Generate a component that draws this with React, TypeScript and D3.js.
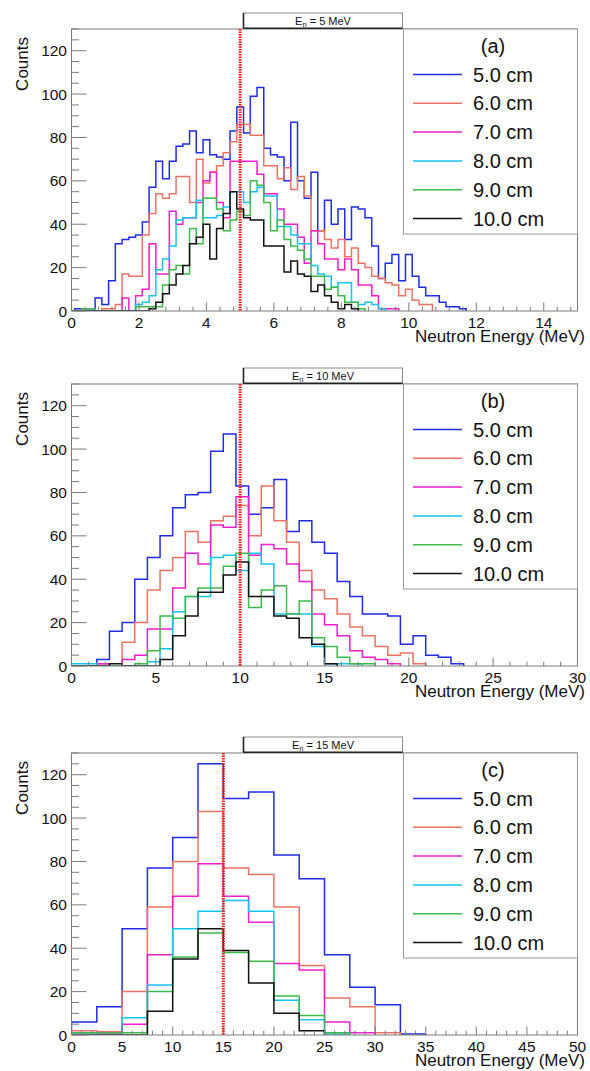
import React from "react";
import * as d3 from "d3";

// ---------- data ----------
const seriesLabels = ["5.0 cm", "6.0 cm", "7.0 cm", "8.0 cm", "9.0 cm", "10.0 cm"];
const seriesColors = ["#1f2be6", "#ee7263", "#f01ecb", "#17c3ee", "#3dbb4a", "#111111"];

// Panel (a): E_n = 5 MeV, bins of 0.2 MeV centred at 0, 0.2, 0.4, ...
const a50 = [0,1,1,1,6,3,14,31,33,34,35,41,57,69,61,69,76,77,83,73,79,72,71,70,83,94,82,99,103,75,72,71,60,87,60,52,64,37,51,40,47,33,48,47,43,30,15,22,26,14,26,16,11,7,7,4,2,2,1];
const a60 = [0,0,0,0,0,1,1,3,17,16,16,35,45,54,52,54,62,62,50,70,59,64,67,73,78,86,86,81,81,67,67,61,66,56,62,53,37,37,33,29,33,25,29,22,20,16,15,13,12,7,10,5,3,3];
const a70 = [0,0,0,0,0,0,0,0,6,0,7,10,31,17,17,46,40,43,43,50,60,64,50,43,69,69,69,69,63,54,54,47,40,40,34,22,37,31,24,24,19,24,19,12,12,7,1,1,1];
const a80 = [0,0,0,0,0,0,0,0,0,0,3,4,7,19,24,30,42,43,43,51,43,43,44,48,55,55,50,55,57,53,53,39,39,35,31,31,21,17,16,11,13,13,4,3,4,3,1];
const a90 = [0,0,1,1,0,0,0,0,0,0,2,2,2,2,12,19,21,17,38,31,52,52,47,37,42,46,44,60,58,50,37,42,33,30,28,24,16,16,10,11,7,4,4,1];
const a100 = [0,0,0,0,0,0,0,0,0,0,0,0,1,4,8,12,17,21,31,34,40,24,38,45,55,47,43,42,42,30,30,30,18,23,17,16,9,12,7,4,1,3,1];

// Panel (b): E_n = 10 MeV, bins of 0.75 MeV starting at 0
const b50 = [0,0,3,16,20,40,50,60,73,79,80,99,107,83,70,73,86,62,67,57,52,39,32,24,24,23,10,14,5,4,1];
const b60 = [0,0,1,0,11,20,35,44,50,62,57,67,69,74,60,83,67,57,44,35,31,24,18,14,9,5,6,1];
const b70 = [0,0,1,0,3,5,17,17,36,52,47,65,64,78,51,56,54,47,39,24,19,14,7,4,3,1];
const b80 = [1,1,0,0,0,0,2,8,25,32,32,50,51,44,52,47,24,24,24,9,1,1,1];
const b90 = [0,0,0,0,0,1,7,23,22,32,36,36,46,52,27,35,37,24,30,13,9,4,1,1];
const b100 = [0,0,0,1,0,0,0,3,14,23,34,34,42,48,32,32,23,22,13,10,1];

// Panel (c): E_n = 15 MeV, bins of 2.5 MeV starting at 0
const c50 = [6,13,49,77,91,125,109,112,83,72,37,22,14,0.5];
const c60 = [2,1.5,20,59,80,103,77,74,59,32,17,13,1];
const c70 = [1,0.5,5,37,64,79,64,52,33,30,6,1];
const c80 = [1,0,8,23,49,57,62,57,16,7,0.5];
const c90 = [1,1,1,20,36,47,38,34,18,9,1];
const c100 = [0,0,0,11,35,49,39,24,10,2];

const panelTags = ["(a)", "(b)", "(c)"];
const beamEnergies = [5, 10, 15];
const xMaxima = [15, 30, 50];
const binWidths = [0.2, 0.75, 2.5];
const firstBinEdges = [-0.1, 0, 0];
const xMajorSteps = [2, 5, 5];
const xMinorSteps = [0.4, 1, 1];
const yMajorTicks = [0, 20, 40, 60, 80, 100, 120];
const yMax = 130;
const panelSeries = [
  [a50, a60, a70, a80, a90, a100],
  [b50, b60, b70, b80, b90, b100],
  [c50, c60, c70, c80, c90, c100],
];

// ---------- layout ----------
const W = 590;
const H = 1071;
const LEFT = 71.5;
const RIGHT = 577.5;
const TOPS = [29, 384, 753];
const PH = 282;
const FONT = "'Liberation Sans', Arial, Helvetica, sans-serif";
const AXIS_COLOR = "#7a7a7a";

function Panel({ idx }: { idx: number }) {
  const top = TOPS[idx];
  const bottom = top + PH;
  const xMax = xMaxima[idx];
  const w = binWidths[idx];
  const off = firstBinEdges[idx];
  const x = d3.scaleLinear().domain([0, xMax]).range([LEFT, RIGHT]);
  const y = d3.scaleLinear().domain([0, yMax]).range([bottom, top]);
  const line = d3
    .line<[number, number]>()
    .x((d) => x(d[0]))
    .y((d) => y(d[1]))
    .curve(d3.curveStepAfter);

  const maj = xMajorSteps[idx];
  const xMajors = d3.range(0, xMax + 1e-9, maj);
  const xMinors = d3
    .range(0, xMax + 1e-9, xMinorSteps[idx])
    .filter((v) => Math.abs(v / maj - Math.round(v / maj)) > 1e-6);
  const yMinors = d3.range(0, yMax + 1e-9, 5).filter((v) => v % 20 !== 0);
  const clipId = `plotclip${idx}`;
  const e = beamEnergies[idx];

  return (
    <g>
      <defs>
        <clipPath id={clipId}>
          <rect x={LEFT} y={top - 2} width={RIGHT - LEFT} height={PH + 2} />
        </clipPath>
      </defs>
      <rect x={LEFT} y={top} width={RIGHT - LEFT} height={PH} fill="#fff" />
      {/* histograms */}
      <g clipPath={`url(#${clipId})`}>
        {panelSeries[idx].map((vals, s) => {
          const pts: [number, number][] = [[off, 0]];
          vals.forEach((v, k) => pts.push([off + k * w, v]));
          pts.push([off + vals.length * w, 0]);
          return (
            <path
              key={s}
              d={line(pts) || ""}
              fill="none"
              stroke={seriesColors[s]}
              strokeWidth={1.5}
            />
          );
        })}
      </g>
      {/* frame */}
      <rect x={LEFT} y={top} width={RIGHT - LEFT} height={PH} fill="none" stroke={AXIS_COLOR} strokeWidth={1} />
      {/* y ticks */}
      {yMajorTicks.map((v) => (
        <g key={`ym${v}`}>
          <line x1={LEFT} x2={LEFT + 15} y1={y(v)} y2={y(v)} stroke={AXIS_COLOR} strokeWidth={1} />
          <text x={67} y={y(v) + 5.5} fontSize={15.5} textAnchor="end" fill="#111">
            {v}
          </text>
        </g>
      ))}
      {yMinors.map((v) => (
        <line key={`yn${v}`} x1={LEFT} x2={LEFT + 7.5} y1={y(v)} y2={y(v)} stroke={AXIS_COLOR} strokeWidth={1} />
      ))}
      {/* x ticks */}
      {xMajors.map((v) => (
        <g key={`xm${v}`}>
          <line x1={x(v)} x2={x(v)} y1={bottom} y2={bottom - 8.5} stroke={AXIS_COLOR} strokeWidth={1} />
          <text x={x(v)} y={bottom + 16.5} fontSize={15.5} textAnchor="middle" fill="#111">
            {v}
          </text>
        </g>
      ))}
      {xMinors.map((v, i) => (
        <line key={`xn${i}`} x1={x(v)} x2={x(v)} y1={bottom} y2={bottom - 4.3} stroke={AXIS_COLOR} strokeWidth={1} />
      ))}
      {/* beam energy marker */}
      <line
        x1={x(e)}
        x2={x(e)}
        y1={top}
        y2={bottom}
        stroke="#ff1a1a"
        strokeWidth={3}
        strokeDasharray="1.5 1"
      />
      {/* axis titles */}
      <text x={585} y={bottom + 31} fontSize={17} textAnchor="end" fill="#111">
        Neutron Energy (MeV)
      </text>
      <text transform={`translate(28, ${top + 8}) rotate(-90)`} fontSize={17} textAnchor="end" fill="#111">
        Counts
      </text>
      {/* title box */}
      <rect x={243.5} y={top - 16} width={159} height={15.5} fill="#fff" stroke="#8a8a8a" strokeWidth={1} />
      <line x1={243.5} x2={243.5} y1={top - 16} y2={top - 0.5} stroke="#222" strokeWidth={1.6} />
      <line x1={243.5} x2={402.5} y1={top - 0.7} y2={top - 0.7} stroke="#222" strokeWidth={1.6} />
      <text x={323} y={top - 4.5} fontSize={11} textAnchor="middle" fill="#111">
        E<tspan fontSize={7.5} dy={2.5}>n</tspan>
        <tspan dy={-2.5}>{` = ${e} MeV`}</tspan>
      </text>
      {/* legend */}
      <rect x={403.5} y={top} width={RIGHT - 403.5} height={205} fill="#fff" stroke="#9a9a9a" strokeWidth={1} />
      <text x={493} y={top + 24} fontSize={20} textAnchor="middle" fill="#111">
        {panelTags[idx]}
      </text>
      {seriesLabels.map((lab, s) => {
        const yy = top + 45.5 + s * 28.8;
        return (
          <g key={lab}>
            <line x1={413} x2={462} y1={yy} y2={yy} stroke={seriesColors[s]} strokeWidth={1.5} />
            <text x={473} y={yy + 7} fontSize={20} fill="#111">
              {lab}
            </text>
          </g>
        );
      })}
    </g>
  );
}

export default function App() {
  return (
    <svg
      width={W}
      height={H}
      viewBox={`0 0 ${W} ${H}`}
      style={{ position: "absolute", left: 0, top: 0, background: "#fff" }}
      fontFamily={FONT}
    >
      <rect x={0} y={0} width={W} height={H} fill="#fff" />
      {[0, 1, 2].map((i) => (
        <Panel key={i} idx={i} />
      ))}
    </svg>
  );
}
